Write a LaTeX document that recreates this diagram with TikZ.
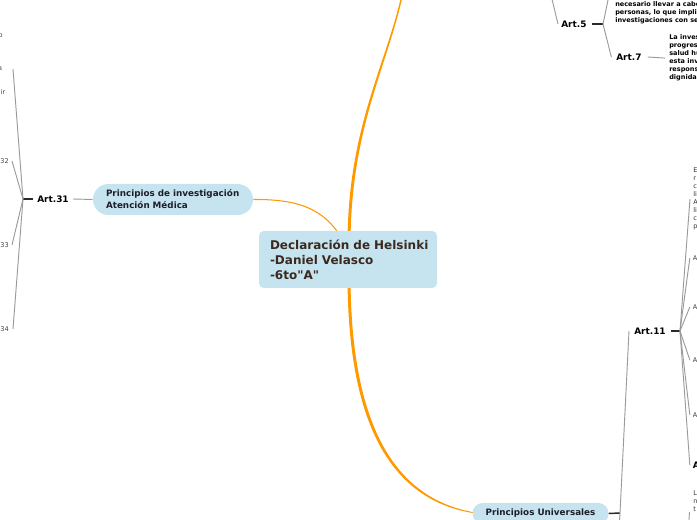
\documentclass[tikz,border=0pt]{standalone}
\usepackage{fontspec}
\setmainfont{DejaVu Sans}[Ligatures=TeXOff]
\definecolor{boxblue}{HTML}{C6E4F0}
\definecolor{orng}{HTML}{FF9900}
\definecolor{ctext}{HTML}{3A2A1E}
\definecolor{ptext}{HTML}{1E1E2A}
\definecolor{lgrey}{HTML}{9A9A9A}
\definecolor{dgrey}{HTML}{2A2A2A}
\tikzset{
 centerbox/.style={rectangle, rounded corners=3.5pt, fill=boxblue, minimum width=133.5pt, minimum height=42.75pt, text width=117pt, inner xsep=8.25pt, inner ysep=0pt, align=left, text=ctext, font=\bfseries\fontsize{9pt}{11.25pt}\selectfont},
 pillbox/.style={rectangle, fill=boxblue, inner xsep=9.75pt, inner ysep=0pt, text=ptext, font=\bfseries\fontsize{6.6pt}{9pt}\selectfont},
 artlabel/.style={inner sep=0pt, text=black, font=\bfseries\fontsize{6.7pt}{8pt}\selectfont, anchor=west},
 boldpara/.style={inner sep=0pt, text=black, align=left, anchor=north west, font=\bfseries\fontsize{4.9pt}{6pt}\selectfont},
 thinpara/.style={inner sep=0pt, text=black!80, align=left, anchor=north west, font=\fontsize{4.9pt}{6pt}\selectfont},
 smalltext/.style={inner sep=0pt, text=black!75, font=\fontsize{4.9pt}{6pt}\selectfont},
 conn/.style={draw=lgrey, line width=0.7pt},
 stub/.style={draw=dgrey, line width=1.1pt},
 thinorange/.style={draw=orng, line width=0.8pt},
}
\begin{document}
\begin{tikzpicture}[x=0.75pt,y=-0.75pt]
\useasboundingbox (0,0) rectangle (697,520);
\clip (0,0) rectangle (697,520);

% orange curves (behind nodes)
\fill[orng] (347.5,245) .. controls (347.5,130) and (384.2,69.5) .. (401.3,-4) -- (402.7,-4) .. controls (385.8,70.5) and (350.5,130) .. (350.5,245) -- cycle;
\fill[orng] (347.5,275) .. controls (347.5,421) and (389,501) .. (476,513.5) -- (476,512.6) .. controls (391,499) and (350.5,419) .. (350.5,275) -- cycle;
\coordinate (rootin) at (348,250);

% left pill, its orange link, then the root box on top
\node[pillbox, rounded corners=11.5pt, minimum width=120pt, minimum height=23.25pt, text width=100.5pt, align=left] (p1) at (173,199.5) {Principios de investigación\\Atención Médica};
\draw[thinorange] (p1.east) .. controls (305,199) and (330,212) .. (rootin);
\node[centerbox] (root) at (348,259.5) {\mbox{Declaración de Helsinki}\\-Daniel Velasco\\-6to"A"};
\node[pillbox, rounded corners=7.5pt, minimum width=101.25pt, minimum height=15.75pt, align=center] (p2) at (540.5,513.5) {Principios Universales};

% article labels
\node[artlabel] (a31) at (37,199) {Art.31};
\node[artlabel] (a5) at (561,24) {Art.5};
\node[artlabel] (a7) at (616,57) {Art.7};
\node[artlabel] (a11) at (634,331) {Art.11};

% paragraphs / cut-off texts
\node[boldpara] (para5) at (615,1.5) {necesario llevar a cabo\\personas, lo que implica\\investigaciones con seres};
\node[boldpara] (para7) at (669,34.5) {La investigación\\progreso\\salud humana\\esta investigación\\responsabilidad\\dignidad};
\node[thinpara] (tE) at (693,167.5) {E\\r\\c\\li\\A\\li\\c\\p};
\node[smalltext, anchor=west] (tA1) at (692.5,258) {A};
\node[smalltext, anchor=west] (tA2) at (692.5,307) {A};
\node[smalltext, anchor=west] (tA3) at (692.5,360) {A};
\node[smalltext, anchor=west] (tA4) at (692.5,415) {A};
\node[artlabel] (tA5) at (692.5,465) {A};
\node[thinpara] (tL) at (693,490.5) {L\\n\\t};

\node[smalltext, anchor=east] (lo) at (3,36) {o};
\node[smalltext, anchor=east] (la) at (2.5,69) {a};
\node[smalltext, anchor=east] (lir) at (5.5,92) {ir};
\node[smalltext, anchor=east] (t32) at (9,161) {Art.32};
\node[smalltext, anchor=east] (t33) at (9,245) {Art.33};
\node[smalltext, anchor=east] (t34) at (9,329) {Art.34};

% branch points
\coordinate (b31) at (23,199);
\coordinate (b5) at (603,24);
\coordinate (bu) at (620,513);
\coordinate (b11) at (680,331);
\coordinate (up5) at (549.3,-12);
\coordinate (up5b) at (609.7,-8);
\coordinate (l30) at (13,69);
\coordinate (downu) at (619,530);
\coordinate (lowL) at (688,535);
\coordinate (lEnd) at (689.5,512);

% left connectors
\draw[conn] (p1.west) -- ([xshift=3pt]a31.east);
\draw[stub] ([xshift=-3pt]a31.west) -- (b31);
\draw[conn] (b31) -- (l30);
\draw[conn] (b31) -- ([xshift=2.25pt]t32.east);
\draw[conn] (b31) -- ([xshift=2.25pt]t33.east);
\draw[conn] (b31) -- ([xshift=3pt]t34.east);

% top right connectors
\draw[conn] (up5) -- ([xshift=-2.25pt]a5.west);
\draw[stub] ([xshift=3.75pt]a5.east) -- (b5);
\draw[conn] (b5) -- (up5b);
\draw[conn] (b5) -- ([xshift=-3.5pt]a7.west);
\draw[conn] ([xshift=4.5pt]a7.east) -- ([xshift=-3pt]para7.west);

% right connectors
\draw[stub] (p2.east) -- (bu);
\draw[conn] (bu) -- ([xshift=-3.75pt]a11.west);
\draw[conn] (bu) -- (downu);
\draw[stub] ([xshift=3.75pt]a11.east) -- (b11);
\draw[conn] (b11) -- ([xshift=-2.25pt]tE.west);
\draw[conn] (b11) -- ([xshift=-2pt]tA1.west);
\draw[conn] (b11) -- ([xshift=-2pt]tA2.west);
\draw[conn] (b11) -- ([xshift=-2pt]tA3.west);
\draw[conn] (b11) -- ([xshift=-2pt]tA4.west);
\draw[conn] (b11) -- ([xshift=-2pt]tA5.west);
\draw[conn] (lowL) -- (lEnd);
\end{tikzpicture}
\end{document}
